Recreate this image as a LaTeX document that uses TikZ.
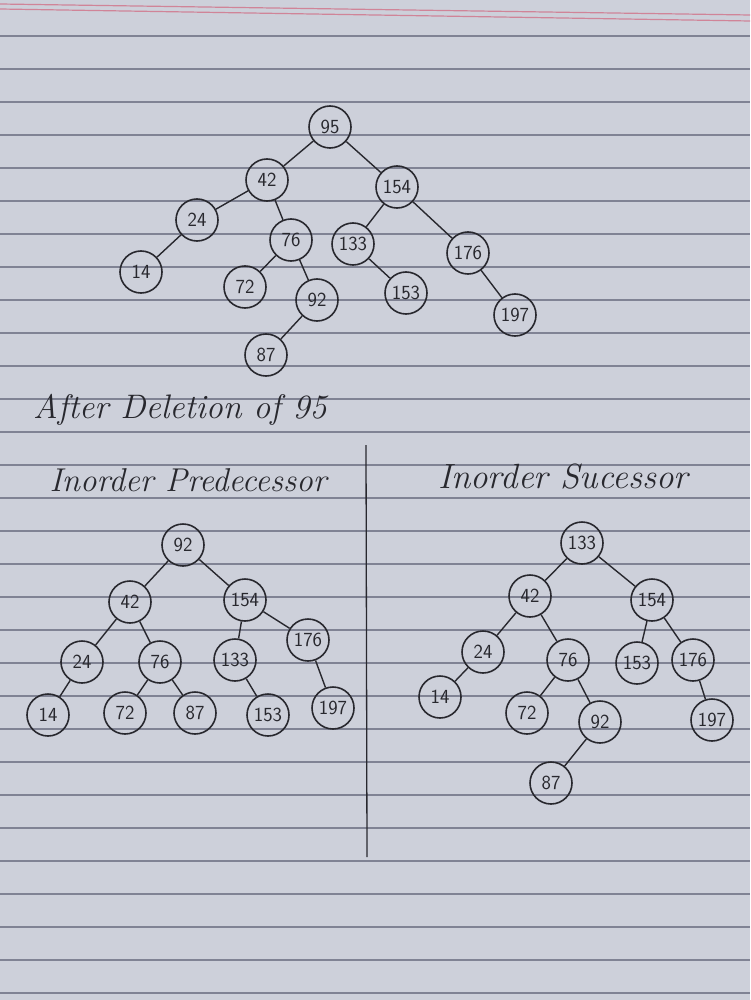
\documentclass[tikz,border=0pt]{standalone}
\usepackage{tikz}
\usetikzlibrary{positioning}
\definecolor{paper}{RGB}{205,208,218}
\definecolor{rule}{RGB}{128,131,148}
\definecolor{margin}{RGB}{208,132,152}
\definecolor{ink}{RGB}{40,40,46}

\begin{document}
\begin{tikzpicture}[x=1pt,y=-1pt,
	key/.style={draw=ink,circle,line width=1.6pt,minimum size=42pt,inner sep=1.5pt,font=\fontsize{20}{20}\selectfont\sffamily,text=ink},
	link/.style={draw=ink,line width=1.4pt},
	heading/.style={font=\fontsize{33}{33}\selectfont\itshape,text=ink,inner sep=0pt}]
	% ruled sheet
	\fill[paper] (0,0) rectangle (750,1000);
	\useasboundingbox (0,0) rectangle (750,1000);
	\foreach \r in {0,...,29}
		\draw[rule,line width=1.1pt] (0,36+33*\r) -- (750,36+33*\r);
	\draw[margin,line width=1.2pt] (0,4) -- (750,15) (0,9) -- (750,21);
	
	% tree before deletion
	\foreach \v/\x/\y in {95/330/127,42/267/180,154/397/187,24/197/220,76/291/240,133/353/244,176/468/253,14/141/272,72/245/287,92/317/300,153/406/293,197/515/315,87/266/355}
		\node[key] (a\v) at (\x,\y) {\v};
	\foreach \p/\c in {95/42,95/154,42/24,42/76,24/14,76/72,76/92,92/87,154/133,154/176,133/153,176/197}
		\draw[link] (a\p) -- (a\c);
	
	\node[heading,anchor=west,font=\fontsize{34}{34}\selectfont\itshape] (after) at (33,410) {After Deletion of 95};
	\node[heading] (pred) at (188,480) {Inorder Predecessor};
	\node[heading,font=\fontsize{35}{35}\selectfont\itshape] (succ) at (563,477) {Inorder Sucessor};
	\coordinate (top) at (366,445);
	\coordinate (bottom) at (367,857);
	\draw[ink,line width=1.3pt] (top) -- (bottom);
	
	% inorder predecessor
	\foreach \v/\x/\y in {92/183/545,42/130/602,154/245/600,24/82/662,76/160/662,133/235/660,176/308/640,14/48/715,72/125/713,87/195/713,153/268/715,197/333/708}
		\node[key] (b\v) at (\x,\y) {\v};
	\foreach \p/\c in {92/42,92/154,42/24,42/76,24/14,76/72,76/87,154/133,154/176,133/153,176/197}
		\draw[link] (b\p) -- (b\c);
	
	% inorder successor
	\foreach \v/\x/\y in {133/582/543,42/530/596,154/652/600,24/483/652,76/568/660,153/637/663,176/693/660,14/440/697,72/527/713,92/600/722,87/551/783,197/712/720}
		\node[key] (c\v) at (\x,\y) {\v};
	\foreach \p/\c in {133/42,133/154,42/24,42/76,24/14,76/72,76/92,92/87,154/153,154/176,176/197}
		\draw[link] (c\p) -- (c\c);
\end{tikzpicture}
\end{document}
